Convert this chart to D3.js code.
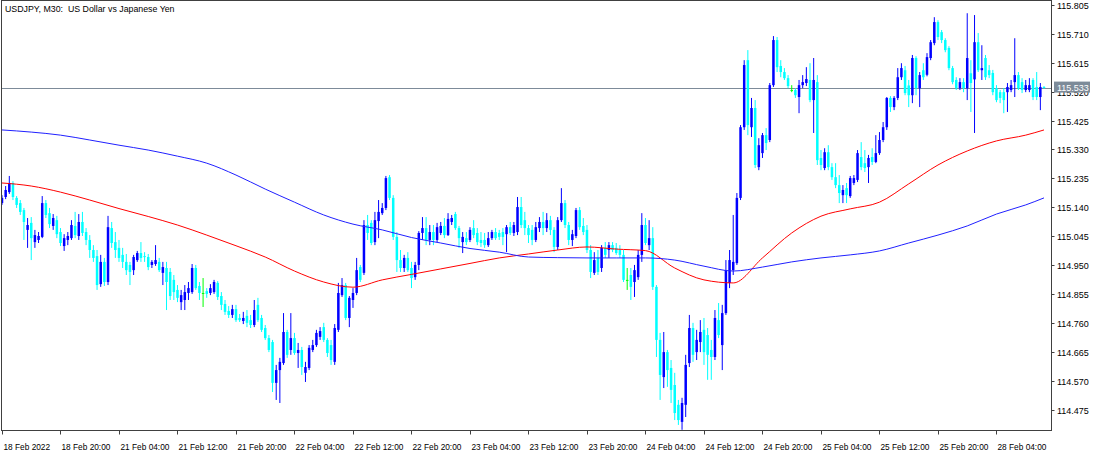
<!DOCTYPE html>
<html><head><meta charset="utf-8">
<script src="https://cdn.jsdelivr.net/npm/d3@7/dist/d3.min.js"></script>
<style>
body{margin:0;background:#fff;}
svg{display:block;}
text{font-family:"Liberation Sans",Arial,sans-serif;font-size:9px;fill:#000;}
text.title{font-size:8.8px;}
text.tl{font-size:8.3px;}
</style>
</head><body>
<svg id="c" width="1100" height="458"></svg>
<script>
// ---------- DATA (USDJPY M30) ----------
const title = "USDJPY, M30:  US Dollar vs Japanese Yen";
const opens = [
115.154,115.174,115.190,115.220,115.171,115.154,115.131,115.066,115.089,115.026,
115.033,115.043,115.154,115.121,115.079,115.098,115.059,115.013,115.033,115.039,
115.079,115.046,115.092,115.059,115.033,115.000,114.980,114.888,114.961,114.895,
115.072,115.026,115.007,114.984,114.961,114.951,114.934,114.967,114.990,114.980,
114.977,114.951,114.954,114.961,114.925,114.941,114.928,114.902,114.869,114.829,
114.836,114.859,114.862,114.941,114.882,114.859,114.865,114.859,114.862,114.892,
114.849,114.823,114.800,114.787,114.806,114.777,114.767,114.784,114.770,114.754,
114.820,114.777,114.744,114.711,114.698,114.564,114.606,114.629,114.731,114.672,
114.711,114.662,114.672,114.597,114.613,114.672,114.688,114.715,114.747,114.705,
114.688,114.633,114.738,114.852,114.885,114.777,114.836,114.859,114.944,114.925,
115.082,115.089,115.026,115.095,115.121,115.138,115.239,115.171,115.043,114.967,
114.941,114.974,114.941,114.911,114.951,115.056,115.072,115.033,115.059,115.033,
115.056,115.079,115.049,115.092,115.118,115.072,115.026,115.039,115.033,115.072,
115.056,115.033,115.033,115.016,115.039,115.059,115.056,115.059,115.052,115.075,
115.056,115.059,115.141,115.098,115.072,115.066,115.033,115.072,115.092,115.072,
115.098,115.066,115.010,115.098,115.154,115.082,115.033,115.046,115.131,115.079,
115.066,115.000,114.925,114.974,114.941,115.007,115.000,115.016,115.007,115.000,
114.984,114.902,114.918,114.895,114.911,114.984,115.082,115.016,115.039,114.879,
114.705,114.583,114.665,114.613,114.557,114.492,114.436,114.492,114.629,114.744,
114.665,114.698,114.738,114.721,114.672,114.649,114.770,114.688,114.793,114.892,
114.934,114.957,115.171,115.403,115.623,115.403,115.466,115.272,115.318,115.377,
115.361,115.541,115.689,115.604,115.584,115.564,115.525,115.525,115.502,115.541,
115.548,115.558,115.492,115.551,115.302,115.269,115.321,115.272,115.239,115.213,
115.180,115.203,115.177,115.220,115.230,115.305,115.285,115.272,115.305,115.289,
115.318,115.361,115.403,115.499,115.469,115.499,115.567,115.590,115.540,115.508,
115.630,115.531,115.590,115.575,115.630,115.679,115.748,115.715,115.689,115.663,
115.597,115.558,115.531,115.551,115.531,115.580,115.560,115.682,115.590,115.630,
115.590,115.581,115.531,115.518,115.518,115.518,115.525,115.551,115.574,115.551,
115.525,115.525,115.558,115.535,115.502,115.535];
const highs = [
115.180,115.210,115.243,115.226,115.177,115.164,115.138,115.105,115.108,115.066,
115.059,115.177,115.164,115.138,115.118,115.112,115.072,115.052,115.059,115.098,
115.125,115.118,115.125,115.072,115.049,115.016,115.000,114.984,114.974,115.112,
115.092,115.059,115.033,115.007,114.987,114.961,114.984,114.997,115.026,114.993,
114.987,114.967,115.016,114.974,114.961,114.961,114.941,114.918,114.885,114.869,
114.885,114.895,114.954,114.951,114.895,114.908,114.875,114.888,114.902,114.898,
114.862,114.836,114.816,114.820,114.820,114.790,114.797,114.803,114.787,114.836,
114.843,114.787,114.754,114.721,114.705,114.623,114.646,114.793,114.738,114.793,
114.728,114.695,114.682,114.633,114.688,114.705,114.738,114.747,114.761,114.711,
114.705,114.757,114.892,114.908,114.892,114.849,114.875,114.974,114.951,115.098,
115.115,115.098,115.125,115.164,115.154,115.243,115.246,115.180,115.059,115.000,
114.984,114.993,114.961,114.961,115.062,115.108,115.108,115.082,115.082,115.089,
115.092,115.105,115.121,115.115,115.125,115.079,115.059,115.059,115.075,115.098,
115.072,115.059,115.056,115.059,115.066,115.072,115.066,115.072,115.082,115.092,
115.092,115.174,115.174,115.125,115.082,115.082,115.092,115.108,115.125,115.121,
115.112,115.075,115.108,115.203,115.164,115.092,115.066,115.138,115.141,115.105,
115.082,115.016,114.993,115.000,115.016,115.026,115.026,115.026,115.023,115.016,
115.000,114.941,114.941,114.951,115.000,115.121,115.105,115.098,115.075,114.885,
114.728,114.731,114.672,114.639,114.597,114.508,114.515,114.656,114.787,114.761,
114.738,114.770,114.777,114.744,114.705,114.803,114.826,114.820,114.967,115.000,
115.115,115.187,115.410,115.623,115.656,115.499,115.492,115.367,115.384,115.400,
115.548,115.702,115.699,115.623,115.597,115.574,115.541,115.531,115.558,115.574,
115.600,115.613,115.630,115.574,115.328,115.334,115.344,115.285,115.285,115.246,
115.213,115.220,115.243,115.246,115.328,115.354,115.328,115.312,115.334,115.377,
115.387,115.420,115.502,115.505,115.505,115.597,115.613,115.604,115.558,115.640,
115.636,115.584,115.613,115.646,115.689,115.764,115.754,115.722,115.695,115.669,
115.604,115.567,115.564,115.564,115.777,115.623,115.771,115.712,115.672,115.640,
115.607,115.591,115.541,115.525,115.531,115.548,115.558,115.695,115.584,115.564,
115.558,115.564,115.564,115.584,115.548,115.538];
const lows = [
115.148,115.167,115.184,115.164,115.138,115.115,115.033,115.007,114.967,115.007,
115.023,115.039,115.105,115.072,115.066,115.039,115.013,114.997,115.016,115.033,
115.039,115.033,115.046,115.016,114.974,114.961,114.869,114.879,114.882,114.885,
115.007,114.974,114.961,114.941,114.918,114.885,114.918,114.961,114.961,114.961,
114.934,114.941,114.948,114.928,114.885,114.803,114.836,114.836,114.829,114.803,
114.803,114.836,114.856,114.869,114.836,114.813,114.843,114.852,114.856,114.836,
114.803,114.787,114.777,114.777,114.764,114.764,114.757,114.747,114.744,114.747,
114.764,114.731,114.705,114.665,114.534,114.508,114.498,114.623,114.646,114.656,
114.656,114.613,114.590,114.567,114.606,114.665,114.682,114.705,114.698,114.649,
114.623,114.623,114.731,114.846,114.770,114.747,114.810,114.852,114.895,114.918,
115.033,115.016,115.016,115.039,115.115,115.131,115.164,115.033,114.928,114.928,
114.928,114.928,114.875,114.902,114.934,115.033,115.016,115.016,115.016,115.026,
115.049,115.039,115.046,115.082,115.066,115.007,114.990,115.016,115.026,115.039,
115.016,115.010,115.007,115.010,115.033,115.033,115.033,115.016,114.993,115.049,
115.046,115.049,115.072,115.049,115.023,115.016,115.026,115.059,115.049,115.059,
115.049,114.993,115.000,115.092,115.072,115.016,115.013,115.039,115.066,115.049,
114.990,114.908,114.918,114.918,114.928,114.974,114.974,114.993,114.984,114.974,
114.895,114.869,114.836,114.846,114.902,114.961,115.016,115.000,114.869,114.649,
114.508,114.547,114.551,114.498,114.442,114.426,114.410,114.452,114.616,114.633,
114.639,114.665,114.623,114.574,114.574,114.639,114.711,114.606,114.787,114.875,
114.918,114.951,115.164,115.394,115.377,115.371,115.269,115.262,115.302,115.328,
115.354,115.535,115.584,115.567,115.558,115.531,115.518,115.499,115.449,115.531,
115.538,115.485,115.384,115.279,115.262,115.262,115.262,115.230,115.203,115.154,
115.154,115.154,115.171,115.213,115.223,115.262,115.256,115.220,115.279,115.285,
115.312,115.354,115.394,115.453,115.459,115.492,115.558,115.508,115.469,115.482,
115.508,115.469,115.558,115.570,115.623,115.672,115.689,115.679,115.649,115.590,
115.544,115.525,115.525,115.518,115.492,115.453,115.384,115.584,115.558,115.558,
115.564,115.508,115.485,115.482,115.449,115.453,115.518,115.502,115.525,115.515,
115.518,115.518,115.492,115.492,115.459,115.530];
const closes = [
115.171,115.197,115.220,115.174,115.148,115.125,115.092,115.082,115.039,115.049,
115.046,115.154,115.115,115.085,115.105,115.052,115.023,115.039,115.046,115.082,
115.049,115.092,115.056,115.033,115.000,114.974,114.885,114.961,114.895,115.075,
115.023,115.000,114.974,114.961,114.934,114.928,114.977,114.990,114.974,114.977,
114.944,114.961,114.967,114.934,114.944,114.895,114.849,114.862,114.843,114.852,
114.862,114.875,114.941,114.875,114.859,114.859,114.856,114.875,114.895,114.846,
114.820,114.797,114.787,114.806,114.770,114.770,114.777,114.761,114.754,114.803,
114.770,114.738,114.711,114.672,114.564,114.606,114.633,114.731,114.656,114.711,
114.662,114.672,114.616,114.616,114.679,114.688,114.728,114.734,114.705,114.662,
114.639,114.744,114.859,114.885,114.777,114.843,114.859,114.934,114.902,115.082,
115.056,115.023,115.098,115.125,115.138,115.236,115.171,115.043,114.967,114.941,
114.974,114.934,114.908,114.951,115.056,115.072,115.033,115.059,115.033,115.075,
115.079,115.049,115.102,115.105,115.072,115.039,115.043,115.026,115.066,115.049,
115.026,115.023,115.016,115.039,115.059,115.039,115.043,115.043,115.075,115.056,
115.082,115.141,115.082,115.072,115.049,115.033,115.075,115.092,115.072,115.098,
115.066,115.010,115.098,115.154,115.082,115.033,115.052,115.131,115.075,115.059,
115.000,114.928,114.967,114.928,115.007,114.984,115.016,115.000,114.990,114.984,
114.902,114.902,114.879,114.934,114.984,115.082,115.023,115.039,114.879,114.705,
114.590,114.665,114.606,114.541,114.465,114.442,114.498,114.623,114.744,114.656,
114.705,114.731,114.665,114.656,114.649,114.777,114.721,114.793,114.934,114.967,
114.961,115.171,115.403,115.607,115.410,115.466,115.279,115.344,115.377,115.351,
115.541,115.689,115.600,115.584,115.564,115.538,115.525,115.508,115.541,115.551,
115.561,115.492,115.558,115.295,115.279,115.321,115.272,115.239,115.213,115.187,
115.197,115.180,115.236,115.236,115.318,115.272,115.269,115.302,115.289,115.318,
115.361,115.403,115.499,115.469,115.499,115.567,115.597,115.515,115.508,115.630,
115.531,115.574,115.567,115.633,115.682,115.748,115.699,115.689,115.656,115.597,
115.551,115.531,115.551,115.531,115.630,115.548,115.682,115.590,115.597,115.567,
115.574,115.518,115.492,115.499,115.492,115.535,115.541,115.574,115.531,115.525,
115.541,115.541,115.502,115.502,115.535,115.533];

// moving averages, read at bar indices
const maBars = [0,8,16,24,32,40,48,56,64,72,80,88,96,104,112,120,128,136,144,152,160,168,176,184,192,200,208,216,224,232,240,248,256,264,272,280,285];
const maRed = [115.220,115.210,115.190,115.164,115.136,115.110,115.082,115.049,115.014,114.977,114.931,114.895,114.878,114.902,114.920,114.938,114.956,114.974,114.987,115.000,115.010,115.003,114.998,114.941,114.902,114.892,114.974,115.056,115.111,115.135,115.157,115.217,115.279,115.325,115.358,115.377,115.394];
const maBlue = [115.394,115.387,115.377,115.361,115.344,115.328,115.308,115.285,115.246,115.200,115.157,115.115,115.085,115.066,115.041,115.023,115.005,114.993,114.977,114.975,114.974,114.974,114.974,114.967,114.947,114.931,114.944,114.961,114.974,114.984,114.997,115.023,115.049,115.079,115.118,115.148,115.171];

const priceTicks = [115.805,115.710,115.615,115.520,115.425,115.330,115.235,115.140,115.045,114.950,114.855,114.760,114.665,114.570,114.475];
const timeTickBars = [0,16,32,48,64,80,96,112,128,144,160,176,192,208,224,240,256,272];
const timeTickLabels = ["18 Feb 2022","18 Feb 20:00","21 Feb 04:00","21 Feb 12:00","21 Feb 20:00","22 Feb 04:00","22 Feb 12:00","22 Feb 20:00","23 Feb 04:00","23 Feb 12:00","23 Feb 20:00","24 Feb 04:00","24 Feb 12:00","24 Feb 20:00","25 Feb 04:00","25 Feb 12:00","25 Feb 20:00","28 Feb 04:00"];
const lastPrice = 115.533;

// ---------- CHART ----------
const n = opens.length;
if (highs.length!==n || lows.length!==n || closes.length!==n) throw new Error("length mismatch "+[n,highs.length,lows.length,closes.length]);
const svg = d3.select("#c");
const P = {l:1.5, r:1051.5, t:0.5, b:430.5};
const x = d3.scaleLinear().domain([0, n-1]).range([2, 1044]);
const y = d3.scaleLinear().domain([114.475, 115.805]).range([410, 4.7]);

svg.append("defs").append("clipPath").attr("id","clip")
  .append("rect").attr("x",P.l).attr("y",P.t).attr("width",P.r-P.l).attr("height",P.b-P.t);

const plot = svg.append("g").attr("clip-path","url(#clip)");

// last price line
plot.append("line").attr("x1",P.l).attr("x2",P.r)
  .attr("y1",Math.round(y(lastPrice))+0.5).attr("y2",Math.round(y(lastPrice))+0.5)
  .attr("stroke","#7d8b99").attr("stroke-width",1);

const col = i => closes[i]>opens[i] ? "#0000ff" : (closes[i]<opens[i] ? "#00ffff" : "#00ff00");
const idx = d3.range(n);
plot.append("g").selectAll("line").data(idx).join("line")
  .attr("x1",i=>x(i)).attr("x2",i=>x(i))
  .attr("y1",i=>y(highs[i])).attr("y2",i=>y(lows[i]))
  .attr("stroke",col).attr("stroke-width",1);
plot.append("g").selectAll("rect").data(idx).join("rect")
  .attr("x",i=>x(i)-1.25).attr("width",2.5)
  .attr("y",i=>y(Math.max(opens[i],closes[i])))
  .attr("height",i=>Math.max(1, Math.abs(y(opens[i])-y(closes[i]))))
  .attr("fill",col);

const line = d3.line().x((d,k)=>x(maBars[k])).y(d=>y(d)).curve(d3.curveMonotoneX);
plot.append("path").datum(maRed).attr("d",line).attr("fill","none").attr("stroke","#ff0000").attr("stroke-width",1);
plot.append("path").datum(maBlue).attr("d",line).attr("fill","none").attr("stroke","#2020ff").attr("stroke-width",1);

// frame
svg.append("rect").attr("x",P.l).attr("y",P.t).attr("width",P.r-P.l).attr("height",P.b-P.t)
  .attr("fill","none").attr("stroke","#404040").attr("stroke-width",1);

// title
svg.append("text").attr("class","title").attr("x",5).attr("y",12).style("white-space","pre").text(title);

// price axis
const pa = svg.append("g");
priceTicks.forEach(p=>{
  const yy = Math.round(y(p))+0.5;
  pa.append("line").attr("x1",P.r).attr("x2",P.r+3).attr("y1",yy).attr("y2",yy).attr("stroke","#404040");
  pa.append("text").attr("x",1057).attr("y",yy+3.5).text(d3.format(".3f")(p));
});
// last price label
const ly = y(lastPrice);
pa.append("rect").attr("x",1054).attr("y",ly-6).attr("width",36).attr("height",11).attr("fill","#7d8b99");
pa.append("text").attr("x",1057).attr("y",ly+3.5).style("fill","#fff").text(d3.format(".3f")(lastPrice));

// time axis
const ta = svg.append("g");
timeTickBars.forEach((b,k)=>{
  const xx = Math.round(x(b))+0.5;
  ta.append("line").attr("x1",xx).attr("x2",xx).attr("y1",P.b).attr("y2",P.b+4).attr("stroke","#404040");
  ta.append("text").attr("class","tl").attr("x",Math.max(3,xx+1)).attr("y",450).text(timeTickLabels[k]);
});
</script>
</body></html>
